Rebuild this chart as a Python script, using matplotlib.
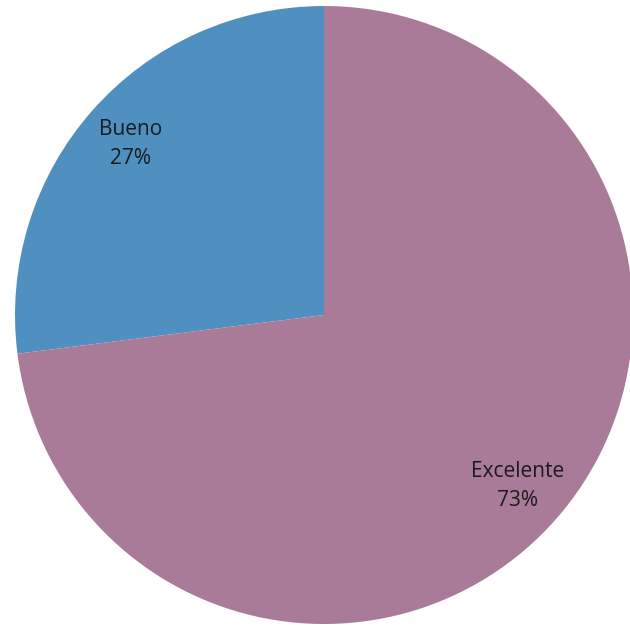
import matplotlib.pyplot as plt

categorias = ["Bueno", "Excelente"]
valores = [27, 73]
colores = ["#5090c0", "#a97b99"]

fig = plt.figure(figsize=(6.30, 6.28), dpi=100)
ax = fig.add_axes([0, 0, 1, 1])

# pixel coords of the pie centre and radius in the reference
cx, cy, r = 324, 315, 309
W, H = 630, 628

etiquetas = iter([f"{c}\n{v}%" for c, v in zip(categorias, valores)])
ax.pie(valores, colors=colores, startangle=90, counterclock=True,
       radius=1, autopct=lambda p: next(etiquetas), pctdistance=0.835,
       textprops=dict(fontsize=15, color="#1a1a1a", family="Open Sans",
                      linespacing=1.5))

ax.set_xlim(-cx / r, (W - cx) / r)
ax.set_ylim(-(H - cy) / r, cy / r)
ax.set_aspect("auto")
ax.axis("off")

fig.savefig("out.png", dpi=100)
